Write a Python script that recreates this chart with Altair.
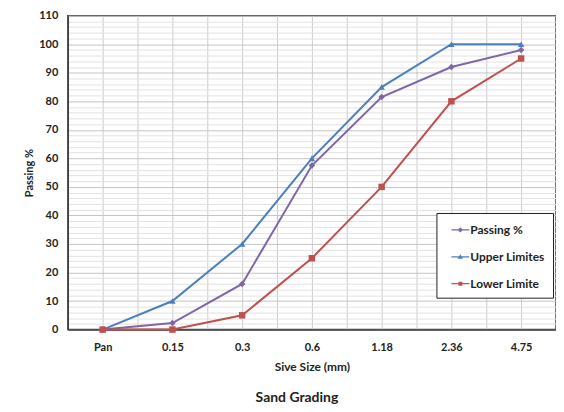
import altair as alt
import pandas as pd

sizes = ["Pan", "0.15", "0.3", "0.6", "1.18", "2.36", "4.75"]
passing = [0, 2.3, 16, 57.5, 81.5, 92, 98]
upper = [0, 10, 30, 60, 85, 100, 100]
lower = [0, 0, 5, 25, 50, 80, 95]
series_names = ["Passing %", "Upper Limites", "Lower Limite"]
colors = ["#7F66A6", "#4C7FBC", "#C0504D"]
shapes = ["diamond", "triangle-up", "square"]
# legend symbols: short line with the series marker on it
line_part = "M-1,-0.07H1V0.07H-1Z "
legend_shapes = [
    line_part + "M0,-0.3L0.3,0L0,0.3L-0.3,0Z",
    line_part + "M0,-0.3L0.3,0.22L-0.3,0.22Z",
    line_part + "M-0.22,-0.22H0.22V0.22H-0.22Z",
]

rows = []
for name, vals in zip(series_names, [passing, upper, lower]):
    for i, (s, v) in enumerate(zip(sizes, vals)):
        rows.append({"idx": i, "size": s, "series": name, "value": v})
df = pd.DataFrame(rows)

label_arr = "[" + ",".join("'" + s + "'" for s in sizes) + "]"
x_vals = [i / 2 for i in range(-1, 14)]

font = "Lato"

x = alt.X(
    "idx:Q",
    scale=alt.Scale(domain=[-0.5, 6.5], nice=False, zero=False),
    axis=alt.Axis(
        values=x_vals,
        labelExpr=f"(datum.value % 1 === 0 && datum.value >= 0) ? {label_arr}[datum.value] : ''",
        title="Sive Size (mm)",
        grid=True,
        gridColor="#cccccc",
        ticks=False,
        labelOverlap=False,
        labelFlush=False,
        labelPadding=12,
        titlePadding=9,
        domainColor="#404040",
        domainWidth=1.5,
    ),
)
y = alt.Y(
    "value:Q",
    scale=alt.Scale(domain=[0, 110], nice=False),
    axis=alt.Axis(
        values=list(range(0, 111, 2)),
        labelExpr="datum.value % 10 === 0 ? datum.label : ''",
        title="Passing %",
        grid=True,
        gridColor={"condition": {"test": "datum.value % 10 === 0", "value": "#c4c4c4"}, "value": "#e2e2e2"},
        ticks=False,
        labelOverlap=False,
        labelPadding=10,
        titlePadding=4,
        domainColor="#404040",
        domainWidth=1.5,
    ),
)

def make_legend():
    return alt.Legend(
        title=None,
        orient="none",
        legendX=370,
        legendY=198,
        strokeColor="#222222",
        fillColor="white",
        padding=8,
        rowPadding=12,
        symbolOffset=7,
        labelOffset=1,
        labelFont=font,
        labelFontSize=12,
        labelFontWeight="bold",
        labelColor="#222222",
        symbolSize=324,
        symbolStrokeWidth=0,
        symbolOpacity=1,
    )

color_scale = alt.Scale(domain=series_names, range=colors)

lines = alt.Chart(df).mark_line(strokeWidth=2).encode(
    x=x, y=y, color=alt.Color("series:N", scale=color_scale, legend=None), detail="series:N"
)
points = alt.Chart(df).mark_point(filled=True, size=42, opacity=1).encode(
    x=x, y=y,
    color=alt.Color("series:N", scale=color_scale, legend=None),
    shape=alt.Shape("series:N", scale=alt.Scale(domain=series_names, range=shapes), legend=None),
)
legend_layer = alt.Chart(df).mark_point(filled=True, opacity=0).encode(
    x=x, y=y,
    color=alt.Color("series:N", scale=color_scale, legend=make_legend()),
    shape=alt.Shape("series:N", scale=alt.Scale(domain=series_names, range=legend_shapes), legend=make_legend()),
)

chart = (
    alt.layer(lines, points, legend_layer)
    .resolve_scale(shape="independent", color="independent")
    .properties(
        width=490,
        height=315,
        padding={"left": 60, "top": 7, "right": 0, "bottom": 82},
        autosize=alt.AutoSizeParams(type="none"),
        title=alt.TitleParams(
            "Sand Grading",
            orient="bottom",
            fontSize=14,
            font=font,
            fontWeight="bold",
            color="#222222",
            offset=19,
            anchor="middle",
            dx=-15,
        ),
    )
    .configure_view(stroke="#404040", strokeWidth=1.5)
    .configure_axis(
        labelFont=font,
        labelFontSize=11,
        labelFontWeight="bold",
        labelColor="#222222",
        titleFont=font,
        titleFontSize=12,
        titleFontWeight="bold",
        titleColor="#222222",
    )
    .configure_axisY(titleFontSize=11)
)

chart.save("out.html", embed_options={"renderer": "svg", "actions": False})
